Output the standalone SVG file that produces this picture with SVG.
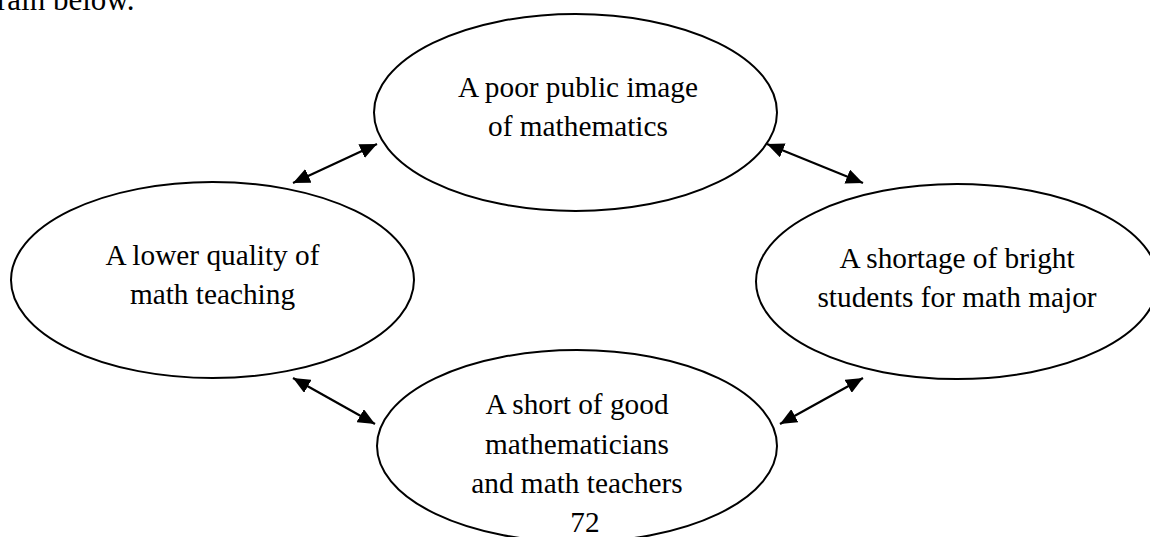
<svg xmlns="http://www.w3.org/2000/svg" width="1150" height="537" viewBox="0 0 1150 537">
  <style>
    .node { fill: #ffffff; stroke: #000000; stroke-width: 2; }
    .label { font-family: "Liberation Serif", "Times New Roman", serif; font-size: 29.3px; fill: #000000; text-anchor: middle; }
    .plain { font-family: "Liberation Serif", "Times New Roman", serif; font-size: 31px; fill: #000000; }
    .link { stroke: #000000; stroke-width: 2.2; fill: none; marker-start: url(#head); marker-end: url(#head); }
  </style>
  <defs>
    <marker id="head" viewBox="0 0 17 15" refX="17" refY="7.5" markerWidth="17" markerHeight="15" markerUnits="userSpaceOnUse" orient="auto-start-reverse">
      <path d="M0,0 L17,7.5 L0,15 Z" fill="#000000"/>
    </marker>
  </defs>
  <rect width="1150" height="537" fill="#ffffff"/>

  <!-- running text above the figure -->
  <text class="plain" x="-3" y="10">rain below.</text>

  <!-- connectors -->
  <g id="connectors">
    <line class="link" x1="293" y1="183" x2="377" y2="144"/>
    <line class="link" x1="767" y1="144" x2="863" y2="183"/>
    <line class="link" x1="293" y1="378" x2="375" y2="424"/>
    <line class="link" x1="780" y1="424" x2="863" y2="378"/>
  </g>

  <g id="node-public-image">
    <ellipse class="node" cx="575.5" cy="112.5" rx="201.5" ry="98.5"/>
    <text class="label" x="578" y="97">A poor public image</text>
    <text class="label" x="578" y="136">of mathematics</text>
  </g>

  <g id="node-teaching-quality">
    <ellipse class="node" cx="212.5" cy="280" rx="201.5" ry="98"/>
    <text class="label" x="212.5" y="265">A lower quality of</text>
    <text class="label" x="212.5" y="304">math teaching</text>
  </g>

  <g id="node-bright-students">
    <ellipse class="node" cx="957" cy="281.5" rx="201" ry="97.5"/>
    <text class="label" x="957" y="268">A shortage of bright</text>
    <text class="label" x="957" y="307">students for math major</text>
  </g>

  <g id="node-teachers">
    <ellipse class="node" cx="577" cy="446" rx="200" ry="96"/>
    <text class="label" x="577" y="414">A short of good</text>
    <text class="label" x="577" y="454">mathematicians</text>
    <text class="label" x="577" y="493">and math teachers</text>
  </g>

  <!-- page number -->
  <text class="label" x="585" y="532">72</text>
</svg>
